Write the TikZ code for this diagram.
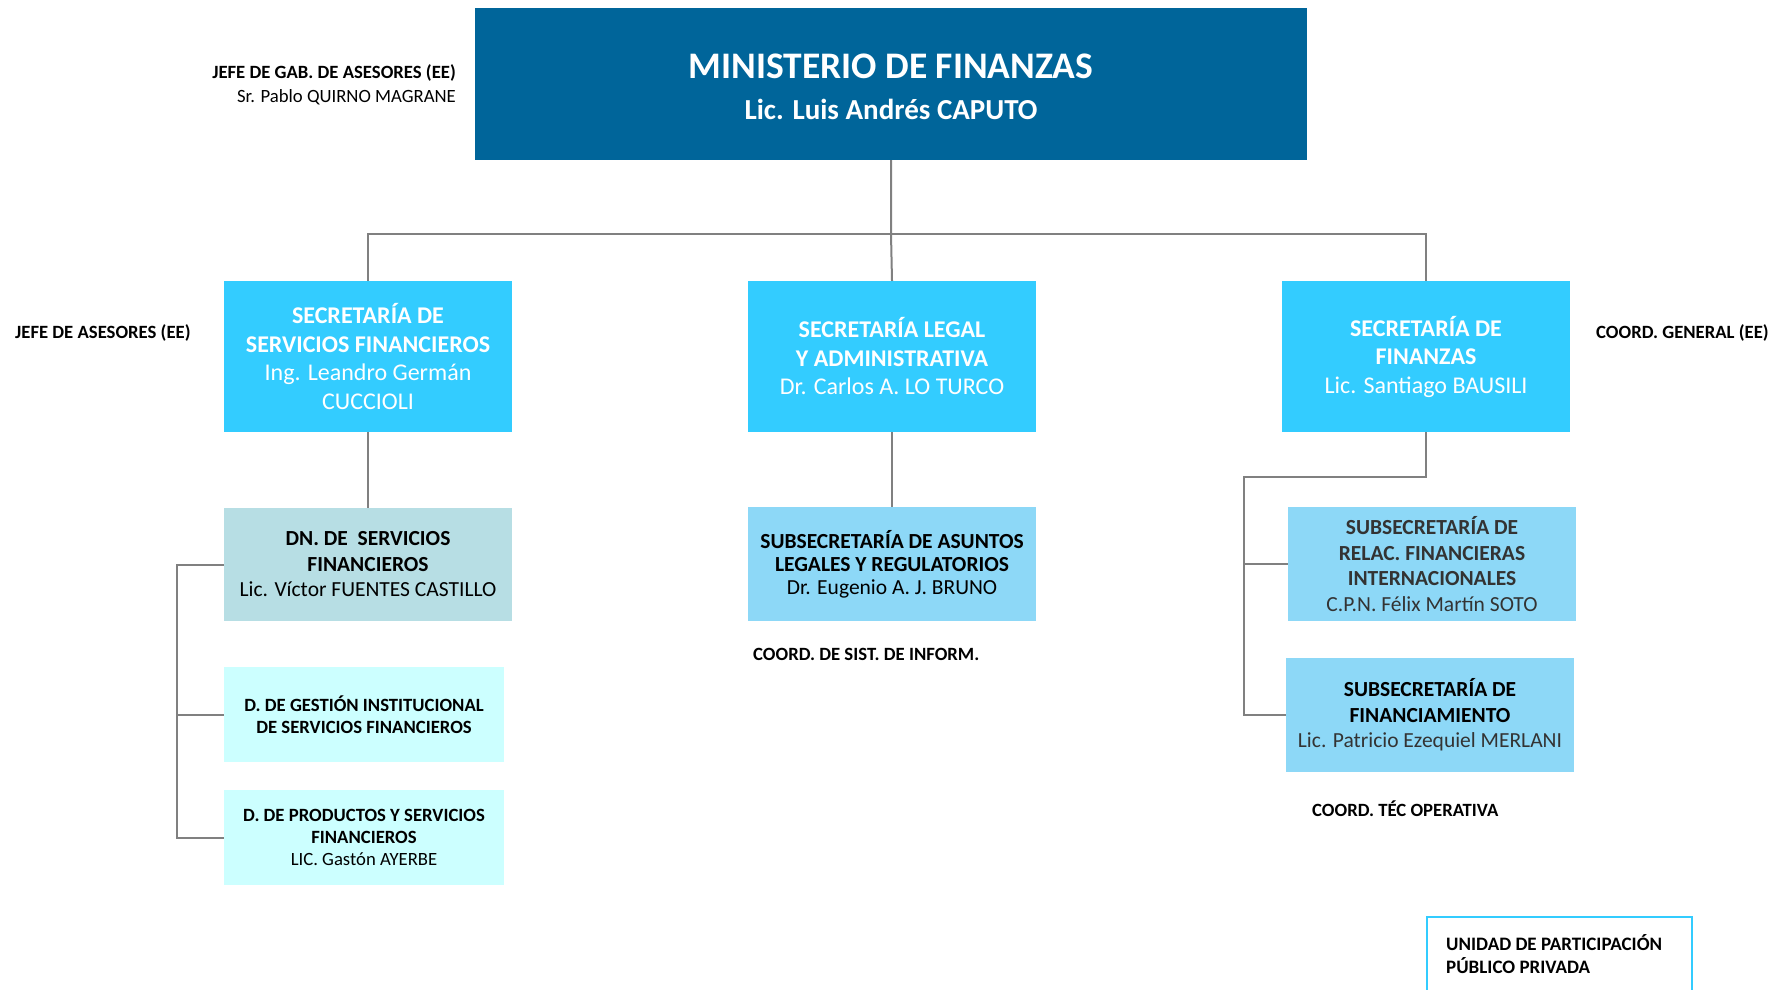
\documentclass[tikz,border=0pt]{standalone}
\usepackage{fontspec}
\setmainfont{Carlito}
\definecolor{minblue}{HTML}{00659A}
\definecolor{secblue}{HTML}{33CCFF}
\definecolor{subblue}{HTML}{8DD8F7}
\definecolor{dnteal}{HTML}{B7DEE4}
\definecolor{dpale}{HTML}{CCFFFF}
\definecolor{linegray}{HTML}{808080}
\definecolor{darktext}{HTML}{333333}
\begin{document}
\begin{tikzpicture}[x=1pt,y=-1pt,
  orgbox/.style={inner sep=0pt,align=center,anchor=center},
  secbox/.style={orgbox,fill=secblue,text=white,minimum width=288pt,minimum height=151pt,
    font=\fontsize{24}{28.5}\selectfont},
  subbox/.style={orgbox,fill=subblue,minimum width=288pt,minimum height=114pt,
    font=\fontsize{21.5}{25.5}\selectfont},
  dbox/.style={orgbox,fill=dpale,minimum width=280pt,minimum height=95pt,
    font=\fontsize{18.7}{22}\selectfont},
  tag/.style={inner sep=0pt,font=\bfseries\fontsize{18.7}{22}\selectfont},
  conn/.style={draw=linegray,line width=2pt}
]
\clip (0,0) rectangle (1774,989);
% top level
\node[orgbox,fill=minblue,minimum width=832pt,minimum height=152pt] (min) at (891,84) {};
\node[orgbox,text=white,font=\bfseries\fontsize{37.5}{41}\selectfont] (mint) at (891,86.5)
  {MINISTERIO DE FINANZAS\\\fontsize{29}{37.5}\selectfont Lic. Luis Andrés CAPUTO};
\node[tag,anchor=east,align=right,font=\bfseries\fontsize{18.7}{24}\selectfont] (jgab) at (456,85)
  {JEFE DE GAB. DE ASESORES (EE)\\\mdseries Sr. Pablo QUIRNO MAGRANE};

% secretarias
\node[secbox] (sf) at (368,356.5)
  {\textbf{SECRETARÍA DE}\\\textbf{SERVICIOS FINANCIEROS}\\Ing. Leandro Germán\\CUCCIOLI};
\node[secbox] (sl) at (892,356.5)
  {\textbf{SECRETARÍA LEGAL}\\\textbf{Y ADMINISTRATIVA}\\Dr. Carlos A. LO TURCO};
\node[secbox] (sfin) at (1426,356.5)
  {\textbf{SECRETARÍA DE}\\\textbf{FINANZAS}\\Lic. Santiago BAUSILI};
\node[tag,anchor=west] (jase) at (15,333) {JEFE DE ASESORES (EE)};
\node[tag,anchor=west] (cgen) at (1596,333) {COORD. GENERAL (EE)};

% servicios financieros
\node[subbox,fill=dnteal,minimum height=113pt] (dn) at (368,564.5)
  {\textbf{DN. DE \ SERVICIOS}\\\textbf{FINANCIEROS}\\Lic. Víctor FUENTES CASTILLO};
\node[dbox] (dg) at (364,714.5)
  {\textbf{D. DE GESTIÓN INSTITUCIONAL}\\\textbf{DE SERVICIOS FINANCIEROS}};
\node[dbox] (dp) at (364,837.5)
  {\textbf{D. DE PRODUCTOS Y SERVICIOS}\\\textbf{FINANCIEROS}\\LIC. Gastón AYERBE};

% legal y administrativa
\node[subbox,font=\fontsize{21.5}{23}\selectfont] (sal) at (892,564)
  {\textbf{SUBSECRETARÍA DE ASUNTOS}\\\textbf{LEGALES Y REGULATORIOS}\\Dr. Eugenio A. J. BRUNO};
\node[tag,anchor=west] (csis) at (753,654) {COORD. DE SIST. DE INFORM.};

% finanzas
\node[subbox,text=darktext] (srf) at (1432,564)
  {\textbf{SUBSECRETARÍA DE}\\\textbf{RELAC. FINANCIERAS}\\\textbf{INTERNACIONALES}\\C.P.N. Félix Martín SOTO};
\node[subbox] (sfa) at (1430,715)
  {\textbf{SUBSECRETARÍA DE}\\\textbf{FINANCIAMIENTO}\\\textcolor{darktext}{Lic. Patricio Ezequiel MERLANI}};
\node[tag,anchor=west] (ctec) at (1312,809) {COORD. TÉC OPERATIVA};

% unidad (cut off at the page edge)
\node[draw=secblue,line width=1.5pt,minimum width=265pt,minimum height=100pt,
  anchor=north west] (uppp) at (1426,916) {};
\node[tag,anchor=west,align=left,font=\bfseries\fontsize{19}{22.5}\selectfont] (uppt) at (1446,954)
  {UNIDAD DE PARTICIPACIÓN\\PÚBLICO PRIVADA};

% connectors
\coordinate (hub) at (891,234);
\coordinate (lbar) at (177,0);
\coordinate (rbar) at (1244,477);
\draw[conn] (min.south) -- (hub) -- (sl.north);
\draw[conn] (sf.north) |- (hub) -| (sfin.north);
\draw[conn] (sf.south) -- (dn.north);
\draw[conn] (sl.south) -- (sal.north);
\draw[conn] (dn.west) -- (dn.west -| lbar) |- (dp.west);
\draw[conn] (dg.west) -- (dg.west -| lbar);
\draw[conn] (sfin.south) |- (rbar) |- (sfa.west);
\draw[conn] (srf.west) -- (srf.west -| rbar);
\end{tikzpicture}
\end{document}
